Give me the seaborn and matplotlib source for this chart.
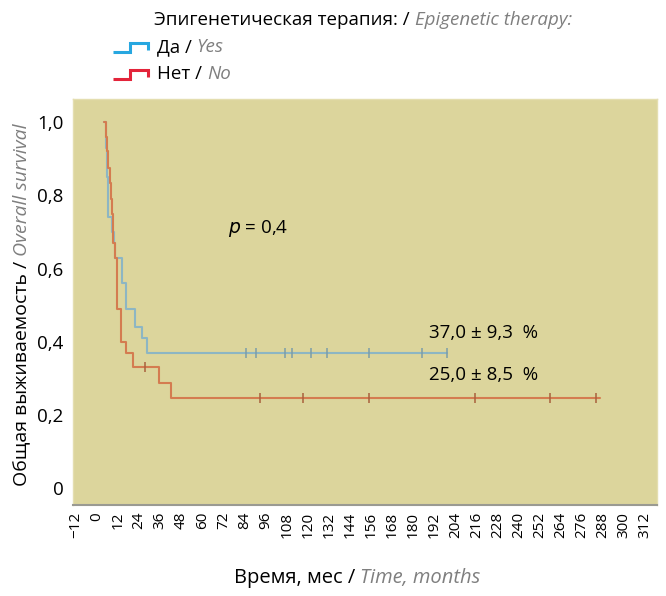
import numpy as np
import pandas as pd
import matplotlib
matplotlib.use("Agg")
import matplotlib.pyplot as plt
import seaborn as sns
from matplotlib.lines import Line2D

# ---------------- data ----------------
yes_times = [4, 5, 5.8, 6.3, 8.5, 9.5, 10.2, 14, 16.5, 21.6, 25.4, 28.6, 199]
yes_surv = [1.0, 0.93, 0.85, 0.74, 0.70, 0.67, 0.63, 0.56, 0.49, 0.44, 0.41, 0.37, 0.37]
yes_censored = [85, 90.5, 107, 111, 122, 131, 155, 185, 199]

no_times = [4, 5, 5.8, 6.5, 7.2, 7.8, 8.3, 8.8, 9.3, 10.0, 11.2, 13.6, 16.7, 20.6, 35.2, 42, 286]
no_surv = [1.0, 0.96, 0.92, 0.875, 0.833, 0.79, 0.75, 0.71, 0.67, 0.63, 0.49, 0.40, 0.37, 0.33, 0.286,
           0.245, 0.245]
no_censored = [27, 93, 117, 155, 215, 258, 284]

x_ticks = list(range(-12, 313, 12))
y_ticks = [0, 0.2, 0.4, 0.6, 0.8, 1.0]
y_tick_labels = ["0", "0,2", "0,4", "0,6", "0,8", "1,0"]

group_names = ["Да", "Нет"]
group_names_en = ["Yes", "No"]
annot_values = ["37,0 ± 9,3  %", "25,0 ± 8,5  %"]
p_text = "0,4"

# ---------------- styling ----------------
sns.set_theme(style="white")
plt.rcParams["font.family"] = ["Open Sans", "DejaVu Sans"]
plt.rcParams["axes.unicode_minus"] = True
plt.rcParams["text.color"] = "black"
plt.rcParams["xtick.color"] = "black"
plt.rcParams["ytick.color"] = "black"
plt.rcParams["xtick.labelcolor"] = "black"
plt.rcParams["ytick.labelcolor"] = "black"

BG = "#DCD59C"
C_YES = "#8DB6C3"
C_NO = "#D47C50"
C_YES_M = "#7C9DA8"
C_NO_M = "#A9603C"
LEG_YES = "#27A7E0"
LEG_NO = "#E3243A"
GREY = "#7F7F7F"

W, H = 666, 596
fig = plt.figure(figsize=(W / 100, H / 100), dpi=100)
ax = fig.add_axes([73 / W, 1 - 505 / H, (657 - 73) / W, (505 - 99) / H])
ax.set_facecolor(BG)


def surv_at(times, surv, t):
    idx = np.searchsorted(np.asarray(times), t, side="right") - 1
    return np.asarray(surv)[idx]


curves = pd.concat([
    pd.DataFrame({"time": yes_times, "surv": yes_surv, "group": group_names[0]}),
    pd.DataFrame({"time": no_times, "surv": no_surv, "group": group_names[1]}),
])
cens = pd.concat([
    pd.DataFrame({"time": yes_censored,
                  "surv": [surv_at(yes_times, yes_surv, t) for t in yes_censored],
                  "group": group_names[0]}),
    pd.DataFrame({"time": no_censored,
                  "surv": [surv_at(no_times, no_surv, t) for t in no_censored],
                  "group": group_names[1]}),
])

sns.lineplot(data=curves, x="time", y="surv", hue="group",
             palette={group_names[0]: C_YES, group_names[1]: C_NO},
             drawstyle="steps-post", estimator=None, sort=True, lw=1.5,
             legend=False, ax=ax)
for g, col in [(group_names[0], C_YES_M), (group_names[1], C_NO_M)]:
    d = cens[cens["group"] == g]
    ax.plot(d["time"], d["surv"], ls="none", marker="|", ms=7, mew=1.1, color=col)

ax.set_xlim(-13.7, 318.7)
ax.set_ylim(-0.046, 1.063)
ax.set_xticks(x_ticks)
ax.set_xticklabels([str(v).replace("-", "\u2212") for v in x_ticks], rotation=90, fontsize=11,
                   color="black")
ax.set_yticks(y_ticks)
ax.set_yticklabels(y_tick_labels, fontsize=13.5, color="black")
ax.tick_params(axis="both", length=0, pad=5)
ax.tick_params(axis="y", pad=7)
for s in ["top", "left", "right"]:
    ax.spines[s].set_color("#E4DEB0")
    ax.spines[s].set_linewidth(1)
ax.spines["bottom"].set_color("#9A9A92")
ax.spines["bottom"].set_linewidth(1.5)
ax.set_xlabel("")
ax.set_ylabel("")

# annotations
ax.text(74.5, 0.71, "$p$ = " + p_text, fontsize=13.5, va="center", ha="left", color="black")
ax.text(189, 0.425, annot_values[0], fontsize=13.5, va="center", ha="left", color="black")
ax.text(189, 0.31, annot_values[1], fontsize=13.5, va="center", ha="left", color="black")

renderer = fig.canvas.get_renderer()


def two_part(x_px, y_px, a, b, size, ha="left", rotation=0):
    """Place black regular text a followed by grey italic b (pixel coords, y from top)."""
    t1 = fig.text(0, 0, a, fontsize=size, color="black", va="center", ha="left",
                  rotation=rotation, rotation_mode="anchor")
    t2 = fig.text(0, 0, b, fontsize=size, color=GREY, style="italic", va="center",
                  ha="left", rotation=rotation, rotation_mode="anchor")
    if rotation == 0:
        w1 = t1.get_window_extent(renderer).width
        w2 = t2.get_window_extent(renderer).width
        start = x_px - (w1 + w2) / 2 if ha == "center" else x_px
        t1.set_position((start / W, 1 - y_px / H))
        t2.set_position(((start + w1) / W, 1 - y_px / H))
    else:
        h1 = t1.get_window_extent(renderer).height
        h2 = t2.get_window_extent(renderer).height
        start = y_px + (h1 + h2) / 2  # bottom (pixel from top)
        t1.set_position((x_px / W, 1 - start / H))
        t2.set_position((x_px / W, 1 - (start - h1) / H))


two_part(363, 20, "Эпигенетическая терапия: / ", "Epigenetic therapy:", 13.5, ha="center")
two_part(157, 47, group_names[0] + " / ", group_names_en[0], 13.5)
two_part(157, 74, group_names[1] + " / ", group_names_en[1], 13.5)
two_part(357, 578, "Время, мес / ", "Time, months", 14.5, ha="center")
two_part(22, 305, "Общая выживаемость / ", "Overall survival", 14, rotation=90)

# legend step icons
for y0, col in [(51.5, LEG_YES), (78.5, LEG_NO)]:
    xs = np.array([113, 130, 130, 148, 148])
    ys = np.array([y0, y0, y0 - 8.5, y0 - 8.5, y0 - 1.5])
    fig.add_artist(Line2D(xs / W, 1 - ys / H, color=col, lw=2.2,
                          solid_joinstyle="miter", solid_capstyle="butt"))

fig.savefig("out.png", dpi=100, facecolor="white")
